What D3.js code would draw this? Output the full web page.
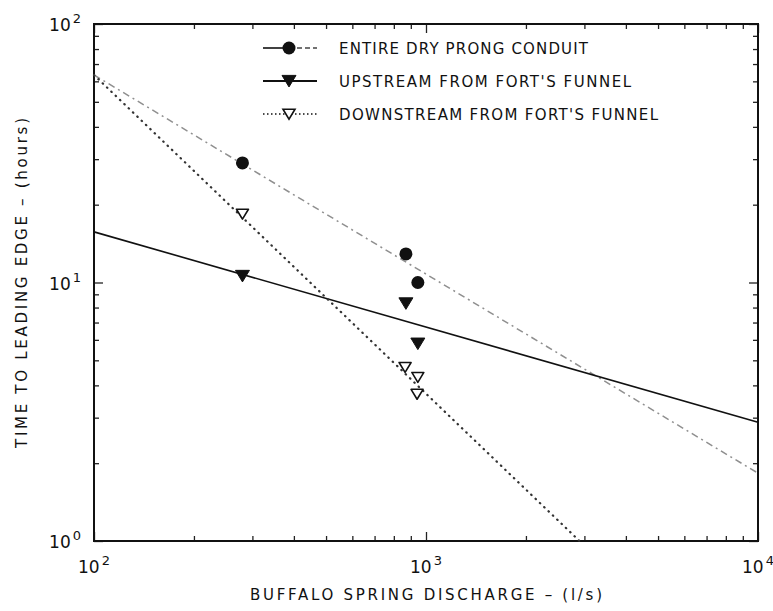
<!DOCTYPE html>
<html>
<head>
<meta charset="utf-8">
<script src="https://cdn.jsdelivr.net/npm/d3@7"></script>
<style>
	body { margin: 0; background: #fff; }
	text { font-family: "DejaVu Sans", sans-serif; fill: #111; }
</style>
</head>
<body>
<div id="chart"></div>
<script>
"use strict";

// discharge (l/s) and time to leading edge (hours)
const entireQ = [280, 870, 945];
const entireT = [29.0, 12.9, 10.0];
const upQ = [280, 870, 945];
const upT = [10.6, 8.3, 5.8];
const downQ = [280, 865, 945, 940];
const downT = [18.4, 4.7, 4.3, 3.7];

// fitted lines, end points
const entireFit = [[100, 63.5], [10000, 1.83]];
const upFit = [[100, 15.7], [10000, 2.88]];
const downFit = [[100, 63.5], [2900, 1.0]];

const xDecades = [100, 1000, 10000];
const yDecades = [1, 10, 100];
const legendLabels = ["ENTIRE DRY PRONG CONDUIT", "UPSTREAM FROM FORT'S FUNNEL", "DOWNSTREAM FROM FORT'S FUNNEL"];

const W = 773, H = 611;
const pLeft = 94, pRight = 758, pTop = 24, pBottom = 541;

const svg = d3.select("#chart").append("svg")
	.attr("width", W)
	.attr("height", H);

const x = d3.scaleLog().domain([100, 10000]).range([pLeft, pRight]);
const y = d3.scaleLog().domain([1, 100]).range([pBottom, pTop]);

const isMajor = (v) => Math.abs(Math.log10(v) - Math.round(Math.log10(v))) < 1e-6;

// axes with inward ticks on all four sides
const drawAxis = (axisFn, scale, transform) => {
	const g = svg.append("g")
		.attr("transform", transform)
		.call(axisFn(scale).tickValues(scale.ticks()).tickSize(-5).tickFormat(""));
	g.select(".domain").remove();
	g.selectAll(".tick line")
		.attr("stroke", "#222")
		.attr("stroke-width", 1.3);
	g.selectAll(".tick").filter((d) => isMajor(d)).select("line")
		.each(function() {
			const l = d3.select(this);
			if (l.attr("y2") !== null && +l.attr("y2") !== 0) l.attr("y2", +l.attr("y2") * 1.8);
			if (l.attr("x2") !== null && +l.attr("x2") !== 0) l.attr("x2", +l.attr("x2") * 1.8);
		});
};
drawAxis(d3.axisBottom, x, `translate(0,${pBottom})`);
drawAxis(d3.axisTop, x, `translate(0,${pTop})`);
drawAxis(d3.axisLeft, y, `translate(${pLeft},0)`);
drawAxis(d3.axisRight, y, `translate(${pRight},0)`);

svg.append("rect")
	.attr("x", pLeft).attr("y", pTop)
	.attr("width", pRight - pLeft).attr("height", pBottom - pTop)
	.attr("fill", "none")
	.attr("stroke", "#111")
	.attr("stroke-width", 2);

// tick labels as 10^n
const power = (g, base, exp, anchorX, baseY, anchor) => {
	const t = g.append("text")
		.attr("x", anchorX).attr("y", baseY)
		.attr("text-anchor", anchor)
		.attr("font-size", 17);
	t.append("tspan").text(base);
	t.append("tspan").attr("dx", 2).attr("dy", -8).attr("font-size", 13).text(exp);
};
const labels = svg.append("g");
xDecades.forEach((d) => power(labels, "10", Math.round(Math.log10(d)), x(d), 573, "middle"));
yDecades.forEach((d) => power(labels, "10", Math.round(Math.log10(d)), 81, y(d) + 7, "end"));

svg.append("text")
	.attr("x", 426).attr("y", 600)
	.attr("text-anchor", "middle")
	.attr("font-size", 15)
	.attr("textLength", 352)
	.text("BUFFALO SPRING DISCHARGE  –  (l/s)");

svg.append("text")
	.attr("transform", "translate(27,283) rotate(-90)")
	.attr("text-anchor", "middle")
	.attr("font-size", 15)
	.attr("textLength", 330)
	.text("TIME TO LEADING EDGE  –  (hours)");

// fit lines
const line = d3.line().x((d) => x(d[0])).y((d) => y(d[1]));
const plot = svg.append("g");

const styles = [
	{ stroke: "#8f8f8f", width: 1.5, dash: "7,4,2,4", cap: "butt" },
	{ stroke: "#111", width: 1.6, dash: null, cap: "butt" },
	{ stroke: "#333", width: 2.2, dash: "0.5,5.5", cap: "round" }
];

[entireFit, upFit, downFit].forEach((fit, i) => {
	plot.append("path")
		.datum(fit)
		.attr("d", line)
		.attr("fill", "none")
		.attr("stroke", styles[i].stroke)
		.attr("stroke-width", styles[i].width)
		.attr("stroke-dasharray", styles[i].dash)
		.attr("stroke-linecap", styles[i].cap);
});

// markers
const triDown = (cx, cy, s) => `M${cx - s},${cy - s * 0.8}L${cx + s},${cy - s * 0.8}L${cx},${cy + s * 0.85}Z`;

const drawCircles = (g, xs, ys) => {
	g.selectAll(null)
		.data(xs.map((q, i) => [q, ys[i]]))
		.enter()
		.append("circle")
		.attr("cx", (d) => x(d[0]))
		.attr("cy", (d) => y(d[1]))
		.attr("r", 6.5)
		.attr("fill", "#111");
};
const drawTris = (g, xs, ys, open) => {
	g.selectAll(null)
		.data(xs.map((q, i) => [q, ys[i]]))
		.enter()
		.append("path")
		.attr("d", (d) => triDown(x(d[0]), y(d[1]), open ? 6 : 7))
		.attr("fill", open ? "#fff" : "#111")
		.attr("stroke", "#111")
		.attr("stroke-width", open ? 1.6 : 1)
		.attr("stroke-linejoin", "round");
};

drawCircles(plot, entireQ, entireT);
drawTris(plot, upQ, upT, false);
drawTris(plot, downQ, downT, true);

// legend
const legend = svg.append("g");
const legendY = [48, 81, 114];
const legendLen = [249, 292, 319];

legendLabels.forEach((label, i) => {
	const ly = legendY[i];
	const row = legend.append("g");
	if (i === 0) {
		row.append("line")
			.attr("x1", 263).attr("x2", 289).attr("y1", ly).attr("y2", ly)
			.attr("stroke", "#111").attr("stroke-width", 1.6);
		row.append("line")
			.attr("x1", 289).attr("x2", 317).attr("y1", ly).attr("y2", ly)
			.attr("stroke", "#444").attr("stroke-width", 1.3)
			.attr("stroke-dasharray", "5,3");
		row.append("circle")
			.attr("cx", 289).attr("cy", ly).attr("r", 6.5)
			.attr("fill", "#111");
	} else {
		row.append("line")
			.attr("x1", 263).attr("x2", 317).attr("y1", ly).attr("y2", ly)
			.attr("stroke", "#111")
			.attr("stroke-width", i === 1 ? 1.8 : 1.5)
			.attr("stroke-dasharray", i === 2 ? "1.5,2.5" : null);
		row.append("path")
			.attr("d", triDown(289, ly, i === 2 ? 6 : 7))
			.attr("fill", i === 2 ? "#fff" : "#111")
			.attr("stroke", "#111")
			.attr("stroke-width", i === 2 ? 1.6 : 1);
	}
	row.append("text")
		.attr("x", 339).attr("y", ly + 6)
		.attr("font-size", 15)
		.attr("textLength", legendLen[i])
		.text(label);
});
</script>
</body>
</html>
